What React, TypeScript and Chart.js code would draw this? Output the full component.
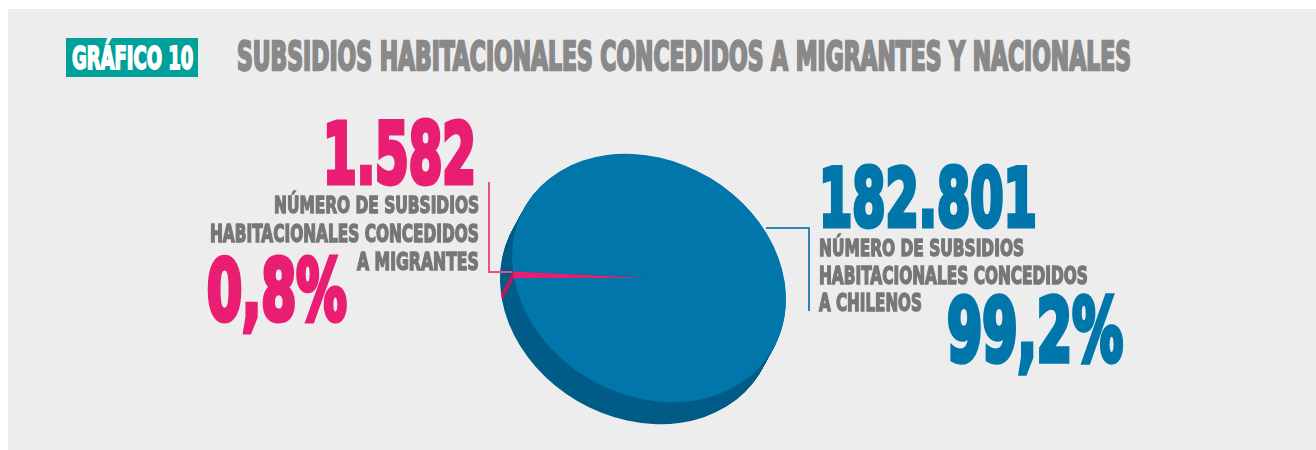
import React, { useEffect, useLayoutEffect, useRef } from "react";
import { Chart, registerables } from "chart.js";

Chart.register(...registerables);

// ---- data ----
const categories = ["Migrantes", "Chilenos"];
const subsidios = [1582, 182801];
const porcentajes = ["0,8%", "99,2%"];
const titulo = "SUBSIDIOS HABITACIONALES CONCEDIDOS A MIGRANTES Y NACIONALES";
const etiquetaGrafico = "GRÁFICO 10";
const descMigrantes = ["NÚMERO DE SUBSIDIOS", "HABITACIONALES CONCEDIDOS", "A MIGRANTES"];
const descChilenos = ["NÚMERO DE SUBSIDIOS", "HABITACIONALES CONCEDIDOS", "A CHILENOS"];

// ---- styles ----
const topColors = ["#e91e72", "#0076aa"];
const sideColors = ["#b71c5e", "#005c88"];
const PINK = "#e91e72";
const BLUE = "#0076aa";
const GRAY = "#777777";
const TITLE_GRAY = "#898989";
const TILT = (30 * Math.PI) / 180;
const SQUASH = 0.82;
const DX = -12;
const DY = 22;
const STEPS = 30;

const fmt = (n: number) => n.toString().replace(/\B(?=(\d{3})+(?!\d))/g, ".");

const FONT = '"DejaVu Sans Condensed", "DejaVu Sans", sans-serif';

function Fit(props: {
  text: string;
  left?: number;
  right?: number;
  w: number;
  capTop: number;
  ch: number;
  color: string;
}) {
  const ref = useRef<HTMLDivElement>(null);
  const size = props.ch / 0.729;
  const left = props.right !== undefined ? props.right - props.w : props.left!;
  useLayoutEffect(() => {
    const el = ref.current;
    if (!el) return;
    el.style.transform = "none";
    const nat = el.offsetWidth;
    el.style.transform = `scaleX(${props.w / nat})`;
  });
  return (
    <div
      ref={ref}
      style={{
        position: "absolute",
        left,
        top: props.capTop - 0.117 * size,
        fontFamily: FONT,
        fontWeight: "bold",
        fontStretch: "condensed",
        fontSize: size,
        lineHeight: `${size}px`,
        whiteSpace: "nowrap",
        color: props.color,
        WebkitTextStroke: `${(size * 0.06).toFixed(2)}px ${props.color}`,
        transformOrigin: "left top",
      }}
    >
      {props.text}
    </div>
  );
}

const depthPlugin = {
  id: "depth3d",
  beforeDatasetsDraw(chart: any) {
    const ctx = chart.ctx as CanvasRenderingContext2D;
    const arcs = chart.getDatasetMeta(0).data;
    if (!arcs.length) return;
    const cx = arcs[0].x;
    const cy = arcs[0].y;
    const tf = () => {
      ctx.translate(cx, cy);
      ctx.rotate(TILT);
      ctx.scale(1, SQUASH);
      ctx.translate(-cx, -cy);
    };
    for (let i = STEPS; i >= 1; i--) {
      ctx.save();
      ctx.translate((DX * i) / STEPS, (DY * i) / STEPS);
      tf();
      arcs.forEach((a: any, idx: number) => {
        const p = a.getProps(["x", "y", "startAngle", "endAngle", "outerRadius"], true);
        ctx.beginPath();
        ctx.moveTo(p.x, p.y);
        ctx.arc(p.x, p.y, p.outerRadius, p.startAngle, p.endAngle);
        ctx.closePath();
        ctx.fillStyle = sideColors[idx];
        ctx.fill();
      });
      ctx.restore();
    }
    ctx.save();
    tf();
  },
  afterDatasetsDraw(chart: any) {
    chart.ctx.restore();
  },
};

const CW = 420;
const CENTER_X = 649;
const CENTER_Y = 278;
const RADIUS = 143;

function PieChart() {
  const ref = useRef<HTMLCanvasElement>(null);
  useEffect(() => {
    if (!ref.current) return;
    const phi = (Math.atan2(Math.sin(TILT), -SQUASH * Math.cos(TILT)) * 180) / Math.PI;
    const chart = new Chart(ref.current, {
      type: "pie",
      data: {
        labels: categories,
        datasets: [
          {
            data: subsidios,
            backgroundColor: topColors,
            borderWidth: 0,
          },
        ],
      },
      options: {
        responsive: false,
        animation: false,
        rotation: phi + 90,
        layout: { padding: (CW - 2 * RADIUS) / 2 },
        plugins: {
          legend: { display: false },
          tooltip: { enabled: false },
        },
      },
      plugins: [depthPlugin],
    });
    return () => chart.destroy();
  }, []);
  return (
    <canvas
      ref={ref}
      width={CW}
      height={CW}
      style={{
        position: "absolute",
        left: CENTER_X - CW / 2,
        top: CENTER_Y - CW / 2,
        width: CW,
        height: CW,
      }}
    />
  );
}

function Line(p: { left: number; top: number; w: number; h: number; color: string }) {
  return (
    <div
      style={{
        position: "absolute",
        left: p.left,
        top: p.top,
        width: p.w,
        height: p.h,
        background: p.color,
      }}
    />
  );
}

export default function App() {
  return (
    <div style={{ position: "absolute", left: 0, top: 0, width: 1316, height: 450, overflow: "hidden" }}>
      <div
        style={{
          position: "absolute",
          left: 8,
          top: 9,
          width: 1308,
          height: 441,
          background: "#ededed",
        }}
      />
      <div
        style={{
          position: "absolute",
          left: 66,
          top: 38,
          width: 132,
          height: 39,
          background: "#00a19a",
        }}
      />
      <Fit text={etiquetaGrafico} left={72} w={121} capTop={47} ch={23} color="#ffffff" />
      <Fit text={titulo} left={237} w={894} capTop={42} ch={29} color={TITLE_GRAY} />

      <PieChart />

      <Line left={488} top={182} w={2} h={91} color="#ea4f88" />
      <Line left={488} top={271} w={24} h={2} color="#ea4f88" />
      <Line left={766} top={227} w={44} h={2} color="#2f84b5" />
      <Line left={808} top={227} w={2} h={84} color="#2f84b5" />

      <Fit text={fmt(subsidios[0])} right={476} w={153} capTop={123} ch={61} color={PINK} />
      <Fit text={descMigrantes[0]} right={479} w={205} capTop={196} ch={17} color={GRAY} />
      <Fit text={descMigrantes[1]} right={479} w={269} capTop={225} ch={18} color={GRAY} />
      <Fit text={descMigrantes[2]} right={479} w={122} capTop={253} ch={18} color={GRAY} />
      <Fit text={porcentajes[0]} left={207} w={140} capTop={260} ch={61} color={PINK} />

      <Fit text={fmt(subsidios[1])} left={819} w={218} capTop={167} ch={59} color={BLUE} />
      <Fit text={descChilenos[0]} left={819} w={205} capTop={239} ch={17} color={GRAY} />
      <Fit text={descChilenos[1]} left={819} w={269} capTop={267} ch={18} color={GRAY} />
      <Fit text={descChilenos[2]} left={819} w={103} capTop={294} ch={18} color={GRAY} />
      <Fit text={porcentajes[1]} left={947} w={176} capTop={298} ch={64} color={BLUE} />
    </div>
  );
}
